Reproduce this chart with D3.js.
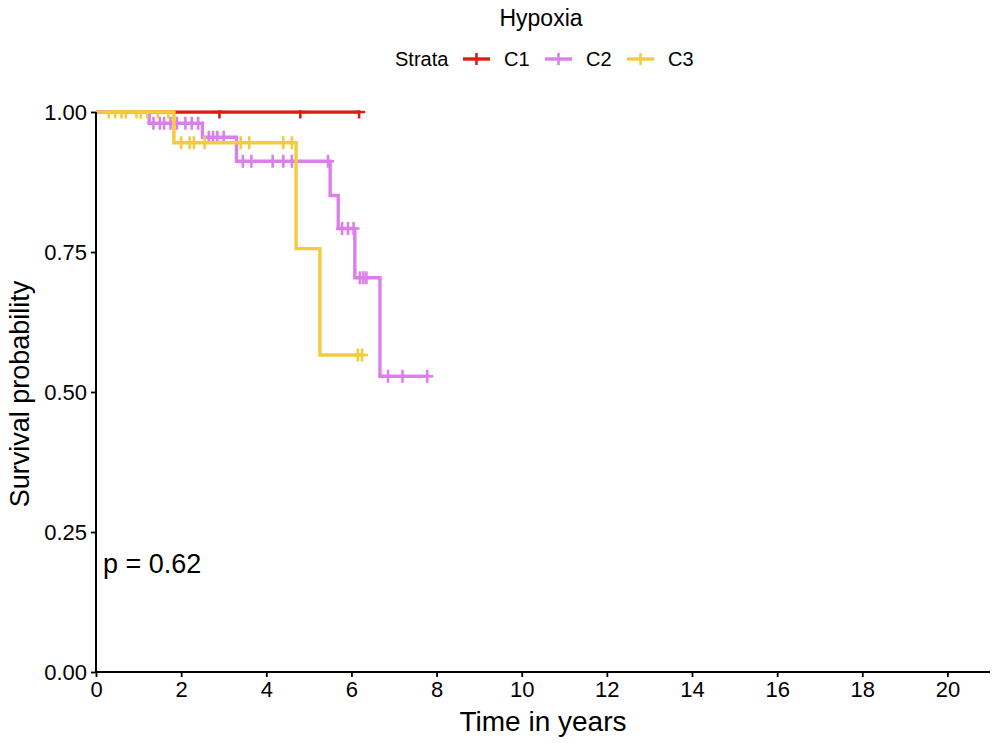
<!DOCTYPE html>
<html><head><meta charset="utf-8">
<script src="https://cdn.jsdelivr.net/npm/d3@7"></script>
<style>body{margin:0;background:#fff}svg{display:block}text{font-family:"Liberation Sans",Arial,Helvetica,sans-serif}</style>
</head><body>
<svg id="c" width="1003" height="743"></svg>
<script>
const title = "Hypoxia";
const strata = ["C1", "C2", "C3"];
const colors = ["#DE1B14", "#DD7FEA", "#F2CD3A"];
const xTicks = [0, 2, 4, 6, 8, 10, 12, 14, 16, 18, 20];
const yTicks = [0, 0.25, 0.5, 0.75, 1];

// Kaplan-Meier steps per stratum
const c1Events = [];
const c1Surv = [];
const c1Censor = [2.9, 4.8, 6.18];
const c1End = 6.18;

const c2Events = [1.25, 2.5, 3.3, 5.5, 5.69, 6.08, 6.67];
const c2Surv = [0.98, 0.955, 0.912, 0.851, 0.792, 0.704, 0.528];
const c2Censor = [1.35, 1.5, 1.6, 1.75, 1.9, 2.1, 2.25, 2.4, 2.65, 2.75, 2.85, 3.0, 3.45, 3.65, 4.15, 4.4, 4.6, 5.45, 5.78, 5.92, 6.05, 6.2, 6.28, 6.35, 6.86, 7.2, 7.78];
const c2End = 7.78;

const c3Events = [1.83, 4.7, 5.26];
const c3Surv = [0.945, 0.756, 0.566];
const c3Censor = [0.3, 0.45, 0.6, 0.7, 0.95, 1.05, 1.2, 1.45, 1.7, 2.0, 2.2, 2.3, 2.55, 3.4, 3.6, 4.4, 4.6, 6.15, 6.25];
const c3End = 6.25;

const pText = "p = 0.62";

const groups = [
  {name: strata[0], ev: c1Events, s: c1Surv, cen: c1Censor, end: c1End, color: colors[0]},
  {name: strata[1], ev: c2Events, s: c2Surv, cen: c2Censor, end: c2End, color: colors[1]},
  {name: strata[2], ev: c3Events, s: c3Surv, cen: c3Censor, end: c3End, color: colors[2]}
];

const svg = d3.select("#c");
const x = d3.scaleLinear().domain([0, 21]).range([96, 990]);
const y = d3.scaleLinear().domain([0, 1]).range([672, 112]);

function survAt(g, t) {
  let s = 1;
  g.ev.forEach((e, i) => { if (e <= t) s = g.s[i]; });
  return s;
}

// clip
svg.append("defs").append("clipPath").attr("id", "pc")
  .append("rect").attr("x", x(0)).attr("y", y(1) - 1.8).attr("width", 900).attr("height", y(0) - y(1) + 2);

const plot = svg.append("g").attr("clip-path", "url(#pc)");
const line = d3.line().x(d => x(d[0])).y(d => y(d[1])).curve(d3.curveStepAfter);

groups.forEach(g => {
  const pts = [[0, 1]];
  g.ev.forEach((e, i) => pts.push([e, g.s[i]]));
  pts.push([g.end, survAt(g, g.end)]);
  plot.append("path").attr("d", line(pts)).attr("fill", "none")
    .attr("stroke", g.color).attr("stroke-width", 3.4);
  const m = plot.append("g").attr("stroke", g.color).attr("stroke-width", 2.6);
  g.cen.forEach(t => {
    const cx = x(t), cy = y(survAt(g, t));
    m.append("line").attr("x1", cx - 6).attr("x2", cx + 6).attr("y1", cy).attr("y2", cy);
    m.append("line").attr("x1", cx).attr("x2", cx).attr("y1", cy - 6.5).attr("y2", cy + 6.5);
  });
});

// axes
const xAxis = svg.append("g").attr("transform", `translate(0,${y(0)})`)
  .call(d3.axisBottom(x).tickValues(xTicks).tickSize(5).tickPadding(4).tickFormat(d3.format("d")));
xAxis.select(".domain").attr("stroke", "#000").attr("stroke-width", 2).attr("d", `M${x(0)},0H${x(21)}`);
xAxis.selectAll(".tick line").attr("stroke", "#000").attr("stroke-width", 1.8);
xAxis.selectAll(".tick text").attr("font-size", 22).attr("fill", "#000");

const yAxis = svg.append("g").attr("transform", `translate(${x(0)},0)`)
  .call(d3.axisLeft(y).tickValues(yTicks).tickSize(5).tickPadding(4).tickFormat(d3.format(".2f")));
yAxis.select(".domain").attr("stroke", "#000").attr("stroke-width", 2).attr("d", `M0,${y(1)}V${y(0)}`);
yAxis.selectAll(".tick line").attr("stroke", "#000").attr("stroke-width", 1.8);
yAxis.selectAll(".tick text").attr("font-size", 22).attr("fill", "#000").attr("dy", "0.36em");

// axis titles
svg.append("text").attr("x", 543).attr("y", 731).attr("text-anchor", "middle")
  .attr("font-size", 28).text("Time in years");
svg.append("text").attr("transform", `translate(29,394) rotate(-90)`).attr("text-anchor", "middle")
  .attr("font-size", 27).text("Survival probability");

// p value
svg.append("text").attr("x", 103).attr("y", 573).attr("font-size", 27).text(pText);

// title
svg.append("text").attr("x", 541).attr("y", 26).attr("text-anchor", "middle").attr("font-size", 23).text(title);

// legend
const leg = svg.append("g");
leg.append("text").attr("x", 395).attr("y", 66).attr("font-size", 20).text("Strata");
const legX = [463, 545, 627];
groups.forEach((g, i) => {
  const lx = legX[i], ly = 59;
  leg.append("line").attr("x1", lx).attr("x2", lx + 27).attr("y1", ly).attr("y2", ly)
    .attr("stroke", g.color).attr("stroke-width", 3.4);
  leg.append("line").attr("x1", lx + 13.5).attr("x2", lx + 13.5).attr("y1", ly - 6).attr("y2", ly + 6)
    .attr("stroke", g.color).attr("stroke-width", 2.6);
  leg.append("text").attr("x", lx + 41).attr("y", 66).attr("font-size", 20).text(g.name);
});
</script>
</body></html>
